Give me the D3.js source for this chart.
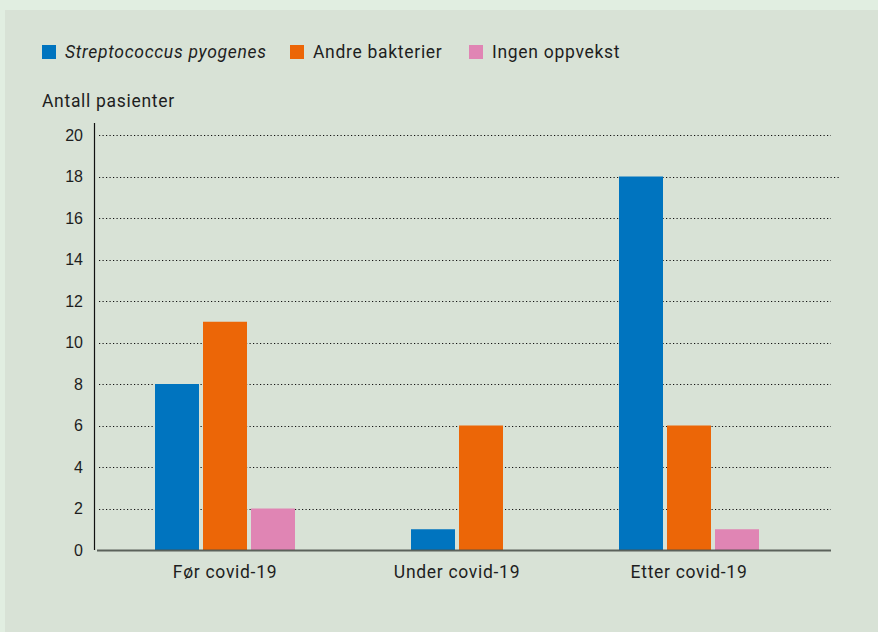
<!DOCTYPE html>
<html>
<head>
<meta charset="utf-8">
<script src="https://cdn.jsdelivr.net/npm/d3@7"></script>
<style>
  html, body { margin: 0; padding: 0; background: #e1eee1; }
  svg { display: block; }
</style>
</head>
<body>
<svg id="chart" width="878" height="632"></svg>
<script>
// Antall pasienter per periode, fordelt på funn i halsprøven
const categories = ["Før covid-19", "Under covid-19", "Etter covid-19"];
const seriesNames = ["Streptococcus pyogenes", "Andre bakterier", "Ingen oppvekst"];
const seriesColors = ["#0074bf", "#ec6607", "#e085b4"];
const streptococcus = [8, 1, 18];
const andreBakterier = [11, 6, 6];
const ingenOppvekst = [2, 0, 1];
const yTicks = [0, 2, 4, 6, 8, 10, 12, 14, 16, 18, 20];
const yLabel = "Antall pasienter";

const seriesValues = [streptococcus, andreBakterier, ingenOppvekst];

const svg = d3.select("#chart");
const W = 878, H = 632;

// panel
svg.append("rect").attr("x", 5).attr("y", 10).attr("width", W - 5).attr("height", H - 10)
  .attr("fill", "#d8e2d6");

const textFont = "Roboto, 'Noto Sans', sans-serif";
const tickFont = "'Liberation Sans', Arial, sans-serif";
const textSize = 17.5, textSpacing = 0.7;

// legend
const legendX = [42, 290, 469];
const legend = svg.append("g");
seriesNames.forEach((name, i) => {
  const g = legend.append("g").attr("transform", `translate(${legendX[i]},45)`);
  g.append("rect").attr("width", 14).attr("height", 14).attr("fill", seriesColors[i]);
  g.append("text").attr("x", 23).attr("y", 13)
    .attr("font-family", textFont).attr("font-size", textSize).attr("fill", "#1e1e1e")
    .attr("letter-spacing", textSpacing)
    .attr("font-style", i === 0 ? "italic" : "normal")
    .text(name);
});

// y label
svg.append("text").attr("x", 42).attr("y", 107)
  .attr("font-family", textFont).attr("font-size", textSize).attr("fill", "#1e1e1e")
  .attr("letter-spacing", textSpacing)
  .text(yLabel);

// scales
const y = d3.scaleLinear().domain([0, 20]).range([550, 135]);
const x = d3.scaleBand().domain(categories).range([109, 805]).paddingInner(0).paddingOuter(0);
const barW = 44, barStep = 48;

// gridlines
const grid = svg.append("g");
yTicks.filter(t => t > 0).forEach(t => {
  grid.append("line")
    .attr("x1", 99).attr("x2", t === 18 ? 841 : 831)
    .attr("y1", Math.round(y(t)) + 0.5).attr("y2", Math.round(y(t)) + 0.5)
    .attr("stroke", "#111").attr("stroke-width", 1)
    .attr("stroke-dasharray", "1.2,2.3");
});

// y axis
const yAxis = d3.axisLeft(y).tickValues(yTicks).tickSize(0).tickPadding(11);
const ya = svg.append("g").attr("transform", "translate(94,0)").call(yAxis);
ya.select(".domain").remove();
ya.selectAll("text").attr("font-family", tickFont).attr("font-size", 16).attr("fill", "#1e1e1e");
svg.append("line").attr("x1", 94.5).attr("x2", 94.5).attr("y1", 123).attr("y2", 550)
  .attr("stroke", "#111").attr("stroke-width", 1.2);

// bars: within each period the non-empty bars are centred on the category
const bars = svg.append("g");
categories.forEach((cat, ci) => {
  const present = seriesValues.map((vals, si) => ({ si, v: vals[ci] })).filter(d => d.v > 0);
  const cx = x(cat) + x.bandwidth() / 2;
  const start = cx - ((present.length - 1) * barStep + barW) / 2;
  present.forEach((d, k) => {
    bars.append("rect")
      .attr("x", start + k * barStep)
      .attr("y", y(d.v))
      .attr("width", barW)
      .attr("height", y(0) - y(d.v))
      .attr("fill", seriesColors[d.si]);
  });
});

// baseline
svg.append("line").attr("x1", 97).attr("x2", 831).attr("y1", 550.5).attr("y2", 550.5)
  .attr("stroke", "#4e554e").attr("stroke-width", 2).attr("opacity", 0.9);

// x axis labels
const xAxis = d3.axisBottom(x).tickSize(0).tickPadding(15);
const xa = svg.append("g").attr("transform", "translate(0,551)").call(xAxis);
xa.select(".domain").remove();
xa.selectAll("text").attr("font-family", textFont).attr("font-size", textSize)
  .attr("letter-spacing", textSpacing).attr("fill", "#1e1e1e");
</script>
</body>
</html>
